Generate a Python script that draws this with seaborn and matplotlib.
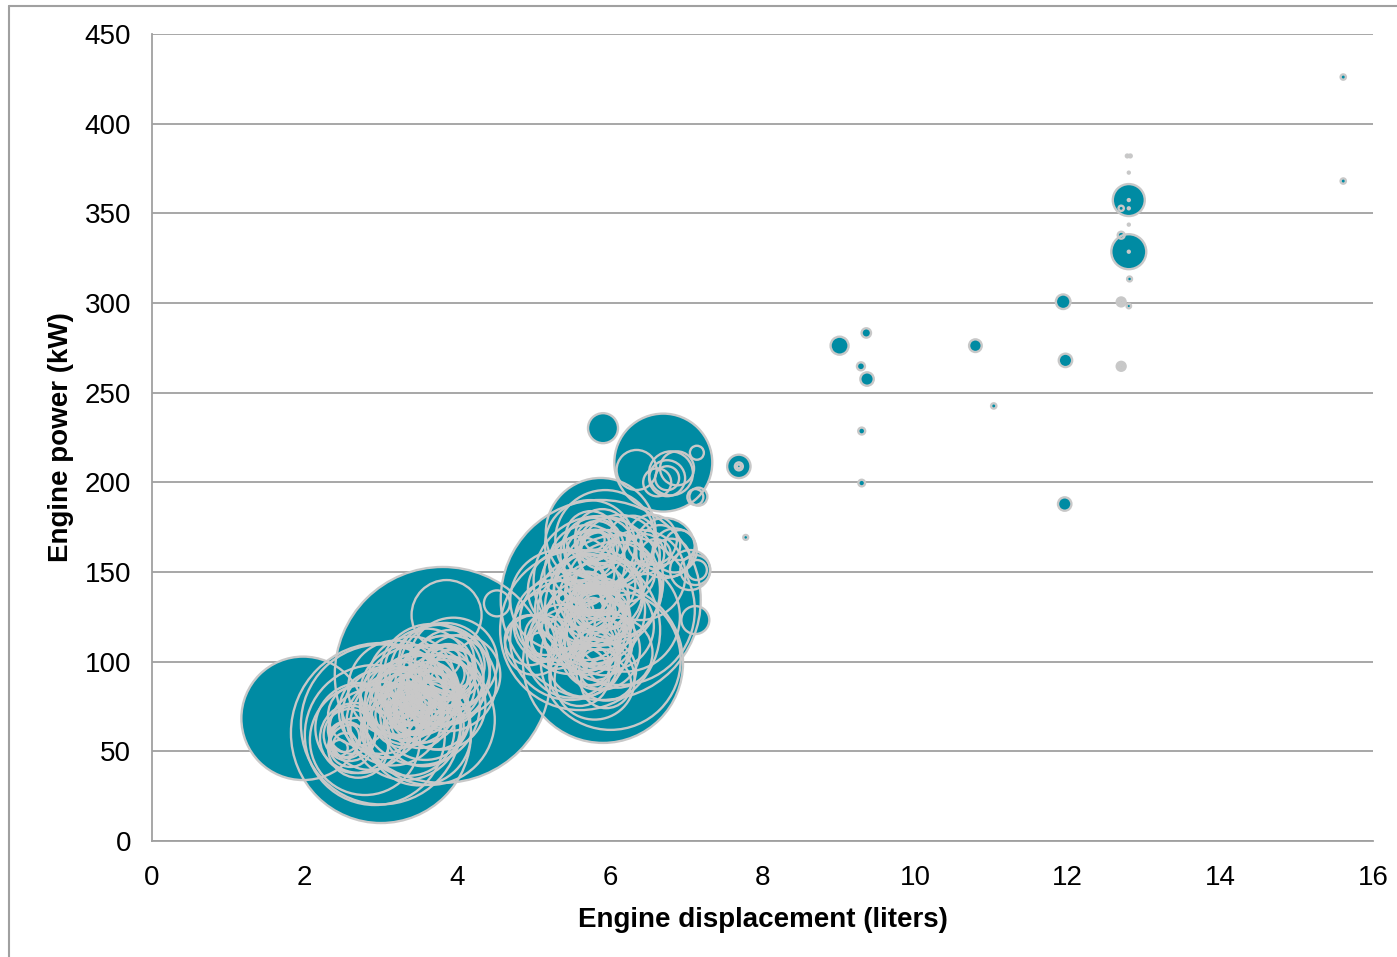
import numpy as np
import pandas as pd
import matplotlib
matplotlib.use("Agg")
import matplotlib.pyplot as plt
import seaborn as sns
from matplotlib.lines import Line2D

# ---- data: engine displacement (l), engine power (kW), bubble volume ----
displacement = [
    # large filled bubbles
    1.98, 3.81, 3.00, 5.88, 5.91, 5.88, 6.70, 5.91,
    # isolated bubbles
    9.01, 9.36, 9.29, 9.37, 10.79, 11.03, 9.30, 9.30, 11.96, 11.97, 11.94,
    7.78, 7.69, 7.69, 7.69,
    12.70, 12.70, 12.70, 12.70, 12.70, 12.70, 12.80,
    12.78, 12.82, 12.80, 12.80, 12.80, 12.80, 12.70, 12.80, 12.70, 12.80, 12.80,
    12.81, 15.61, 15.61,
    # cluster around 6.7 l / 210 kW
    6.35, 6.75, 6.88, 7.14, 7.16, 6.75, 6.80, 6.62,
    # cluster around 5.8 l
    5.81, 5.81, 5.79, 5.85, 5.74, 5.87, 5.68, 5.94, 5.74, 5.81, 5.74, 5.87,
    5.81, 5.83, 5.79, 5.74, 5.94, 6.13, 6.66, 6.72, 6.92, 7.05, 7.12, 7.14,
    7.12, 7.12, 4.95, 5.02, 5.15, 5.28, 5.35, 5.48, 6.01, 6.40, 6.13, 5.61,
    5.78, 5.84, 5.70, 5.90, 5.65, 5.95, 5.80, 5.60, 5.75, 5.85, 6.55, 6.85,
    4.52, 5.35, 5.50,
    5.82, 5.76, 5.86, 5.72, 5.90, 5.80, 5.70, 5.95, 5.78, 5.88, 5.70, 5.92,
    5.76, 5.86, 5.66, 6.00, 5.55, 6.05, 5.80, 5.86, 5.74, 5.90, 6.00, 5.70,
    5.95, 6.20, 6.45, 6.30, 6.60, 6.80, 5.30, 5.10, 5.20, 5.45, 5.60, 6.10,
    5.95, 5.50, 6.20, 5.85,
    # cluster around 3.4 l
    2.53, 2.56, 2.59, 2.66, 2.46, 2.73, 2.79, 2.92, 3.25, 3.32, 3.38, 3.45,
    3.51, 3.19, 3.58, 3.32, 3.64, 3.12, 3.38, 3.25, 3.05, 3.84, 3.90, 3.88,
    3.97, 3.77, 3.84, 4.04, 3.71, 3.51, 3.64, 3.86, 3.00, 3.20, 3.40, 3.55,
    3.30, 3.70, 3.45, 3.95, 3.60, 3.20, 3.10, 2.70,
    3.30, 3.35, 3.42, 3.48, 3.28, 3.36, 3.22, 3.50, 3.56, 3.44, 3.62, 3.68,
    3.75, 3.80, 3.86, 3.92, 3.80, 3.73, 3.95, 3.88, 3.66, 3.40, 3.15, 3.36,
    3.50, 3.00, 2.85, 2.60, 2.52, 2.62, 2.70, 3.46, 3.34, 3.60, 3.26, 3.12,
    3.72, 3.56, 3.90, 3.78,
]
power = [
    68.4, 92.6, 60.2, 134.4, 99.3, 171.8, 211.0, 230.2,
    276.2, 283.3, 264.7, 257.6, 276.2, 242.6, 228.6, 199.6, 187.9, 268.0, 300.7,
    169.3, 208.9, 208.9, 208.9,
    264.7, 264.7, 264.7, 300.6, 300.6, 300.6, 298.3,
    382.0, 382.0, 372.7, 357.4, 357.4, 352.8, 352.8, 343.7, 337.8, 328.6, 328.6,
    313.4, 368.0, 426.0,
    206.9, 202.3, 207.8, 216.5, 192.0, 202.3, 205.0, 200.0,
    134.4, 132.7, 135.5, 137.2, 128.8, 140.0, 123.2, 142.8, 112.1, 103.7, 98.1, 106.5,
    165.0, 166.2, 163.4, 165.0, 167.8, 159.5, 165.0, 163.4, 165.0, 151.1, 151.1, 151.1,
    123.2, 191.8, 112.0, 109.3, 114.9, 123.2, 134.4, 112.1, 101.0, 148.3, 128.8, 117.6,
    130.0, 128.0, 138.0, 125.0, 100.0, 95.0, 90.0, 150.0, 170.0, 160.0, 168.0, 162.0,
    132.5, 115.0, 105.0,
    131, 133, 135, 130, 132, 126, 142, 138, 120, 115, 110, 108,
    100, 96, 118, 120, 128, 140, 168, 162, 160, 170, 162, 155,
    150, 150, 160, 168, 160, 158, 110, 108, 120, 140, 92, 105,
    88, 122, 125, 145,
    53.5, 56.3, 59.1, 57.4, 51.9, 63.0, 56.3, 59.1, 75.8, 78.6, 81.4, 73.0,
    78.6, 70.3, 70.3, 64.7, 84.2, 78.6, 67.5, 84.2, 67.5, 96.5, 98.1, 94.2,
    96.5, 92.6, 100.9, 92.6, 87.0, 75.8, 67.5, 126.0, 65.0, 72.0, 76.0, 80.0,
    70.0, 78.0, 88.0, 90.0, 95.0, 85.0, 62.0, 70.0,
    74, 72, 70, 74, 78, 80, 76, 68, 75, 82, 72, 80,
    86, 90, 93, 95, 97, 100, 100, 88, 92, 90, 70, 62,
    60, 72, 62, 53, 58, 62, 52, 76, 68, 86, 86, 80,
    70, 64, 84, 76,
]
volume = [
    381, 1166, 810, 1000, 640, 302, 240, 22.5,
    8.1, 2.2, 1.6, 4.5, 4.0, 0.7, 1.2, 1.1, 4.5, 4.5, 5.3,
    0.6, 13.7, 1.6, 0.4,
    2.0, 0.9, 0.2, 2.0, 0.9, 0.2, 0.5,
    0.2, 0.2, 0.1, 25.6, 0.1, 0.1, 0.7, 0.1, 1.2, 30.6, 0.1,
    0.6, 0.7, 0.7,
    40, 32.4, 28.9, 4.9, 8.1, 14.4, 48.4, 19.6,
    22.5, 62.5, 122.5, 202.5, 302.5, 360, 160, 90, 90, 62.5, 40, 160,
    22.5, 48.4, 90, 202.5, 250, 160, 40, 90, 22.5, 40, 22.5, 10,
    19.6, 6.4, 62.5, 90, 40, 160, 250, 360, 490, 202.5, 562.5, 640,
    10, 32.4, 48.4, 78.4, 122.5, 90, 160, 122.5, 62.5, 144.4, 62.5, 48.4,
    16.9, 90, 202.5,
    4.9, 14.4, 28.9, 48.4, 67.6, 90, 108.9, 129.6, 144, 115.6, 96.1, 78.4,
    57.6, 40, 176.4, 193.6, 144, 230.4, 10, 32.4, 57.6, 72.9, 108.9, 144,
    176.4, 90, 40, 57.6, 22.5, 36, 62.5, 22.5, 122.5, 160, 90, 122.5,
    62.5, 270, 300, 420,
    14.4, 32.4, 67.6, 122.5, 6.4, 202.5, 302.5, 490, 90, 160, 250, 62.5,
    122.5, 40, 202.5, 302.5, 78.4, 22.5, 14.4, 48.4, 144.4, 202.5, 122.5, 78.4,
    40, 250, 22.5, 160, 160, 360, 422.5, 122.5, 640, 10, 32.4, 14.4,
    102.4, 48.4, 90, 90, 176.4, 230.4, 78.4, 90,
    4.9, 19.6, 36, 57.6, 28.9, 72.9, 108.9, 84.1, 129.6, 152.1, 25, 67.6,
    102.4, 12.1, 32.4, 62.5, 96.1, 144, 193.6, 230.4, 270.4, 184.9, 250, 211.6,
    270.4, 176.4, 160, 44.1, 22.5, 57.6, 90, 9, 49, 40, 64, 90,
    115.6, 160, 115.6, 202.5,
]

x_ticks = [0, 2, 4, 6, 8, 10, 12, 14, 16]
y_ticks = [0, 50, 100, 150, 200, 250, 300, 350, 400, 450]

TEAL = "#008BA3"
EDGE = "#C8C8C8"
GRID = "#A0A0A0"

sns.set_theme(style="white")
plt.rcParams['font.family'] = ['Liberation Sans', 'DejaVu Sans']

fig = plt.figure(figsize=(13.97, 9.57), dpi=100)
ax = fig.add_axes([152 / 1397, 1 - 841 / 957, (1373 - 152) / 1397, (841 - 34) / 957])

df = pd.DataFrame({"disp": displacement, "power": power, "volume": volume})
df = df.sort_values("volume", ascending=False, kind="stable")

common = dict(data=df, x="disp", y="power", size="volume",
              sizes=(0, 1200 * 20.736), size_norm=(0, 1200),
              legend=False, ax=ax)
# bubble fills
sns.scatterplot(color=TEAL, linewidth=0, alpha=1, **common)
# bubble outlines on top, so every circle's rim remains visible
sns.scatterplot(color=EDGE, facecolor="none", edgecolor=EDGE, linewidth=1.7, **common)

ax.set_xlim(0, 16)
ax.set_ylim(0, 450)
ax.set_xticks(x_ticks)
ax.set_yticks(y_ticks)
ax.set_xticklabels([str(t) for t in x_ticks], fontsize=20)
ax.set_yticklabels([str(t) for t in y_ticks], fontsize=20)
ax.yaxis.grid(True, color=GRID, linewidth=1.3)
ax.xaxis.grid(False)
ax.set_axisbelow(True)

for s in ["top", "right"]:
    ax.spines[s].set_visible(False)
for s in ["left", "bottom"]:
    ax.spines[s].set_color(GRID)
    ax.spines[s].set_linewidth(1.3)

ax.tick_params(axis="both", which="major", direction="out", length=5,
               width=1.3, color=GRID, labelcolor="black")
ax.tick_params(axis="y", pad=10)
ax.tick_params(axis="x", pad=12)

ax.set_xlabel("Engine displacement (liters)", fontsize=20, fontweight="bold",
              labelpad=12, color="black")
ax.set_ylabel("Engine power (kW)", fontsize=20, fontweight="bold",
              labelpad=8, color="black")

# outer chart frame (partially cropped in the original)
fig.add_artist(Line2D([9 / 1397, 9 / 1397], [0, 1 - 6 / 957],
                      transform=fig.transFigure, color="#A0A0A0", lw=1.5))
fig.add_artist(Line2D([9 / 1397, 1], [1 - 6 / 957, 1 - 6 / 957],
                      transform=fig.transFigure, color="#A0A0A0", lw=1.5))

fig.savefig("out.png", dpi=100)
